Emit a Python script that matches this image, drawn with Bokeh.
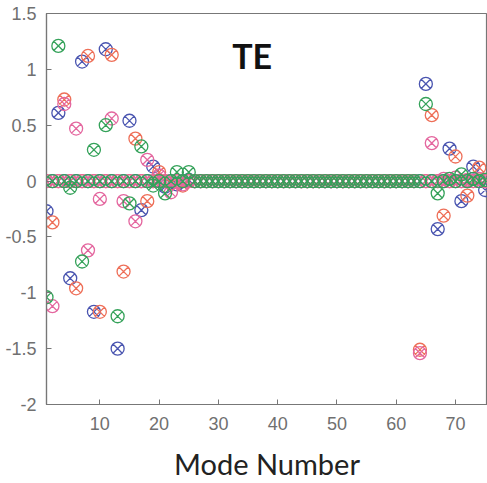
from bokeh.plotting import figure
from bokeh.models import ColumnDataSource, Range1d, FixedTicker, Label
from bokeh.embed import file_html
from bokeh.resources import INLINE

modes = list(range(1, 76))

# values per mode 1..75
blue = [-0.27, 0, 0.61, 0, -0.87, 0, 1.07, 0, -1.17, 0,
        1.18, 0, -1.50, 0, 0.54, 0, -0.26, 0, 0.13, 0,
        -0.05, 0, -0.03, 0, 0.01, 0, 0, 0, 0, 0,
        0, 0, 0, 0, 0, 0, 0, 0, 0, 0,
        0, 0, 0, 0, 0, 0, 0, 0, 0, 0,
        0, 0, 0, 0, 0, 0, 0, 0, 0, 0,
        0, 0, 0, 0, 0.87, 0, -0.43, 0, 0.29, 0,
        -0.18, 0, 0.13, 0, -0.08]
red = [0, -0.37, 0, 0.73, 0, -0.96, 0, 1.12, 0, -1.17,
       0, 1.13, 0, -0.81, 0, 0.38, 0, -0.18, 0, 0.08,
       0, -0.02, 0, -0.04, 0, 0, 0, 0, 0, 0,
       0, 0, 0, 0, 0, 0, 0, 0, 0, 0,
       0, 0, 0, 0, 0, 0, 0, 0, 0, 0,
       0, 0, 0, 0, 0, 0, 0, 0, 0, 0,
       0, 0, 0, -1.51, 0, 0.59, 0, -0.31, 0, 0.22,
       0, -0.13, 0, 0.12, 0]
pink = [0, -1.12, 0, 0.69, 0, 0.47, 0, -0.62, 0, -0.16,
        0, 0.56, 0, -0.18, 0, -0.36, 0, 0.19, 0, 0.05,
        0, -0.10, 0, -0.03, 0, 0, 0, 0, 0, 0,
        0, 0, 0, 0, 0, 0, 0, 0, 0, 0,
        0, 0, 0, 0, 0, 0, 0, 0, 0, 0,
        0, 0, 0, 0, 0, 0, 0, 0, 0, 0,
        0, 0, 0, -1.54, 0, 0.34, 0, 0.02, 0, 0.03,
        0, 0.01, 0, 0.02, 0]
green = [-1.04, 0, 1.21, 0, -0.06, 0, -0.72, 0, 0.28, 0,
         0.50, 0, -1.21, 0, -0.20, 0, 0.31, 0, -0.04, 0,
         -0.11, 0, 0.08, 0, 0.08, 0, 0, 0, 0, 0,
         0, 0, 0, 0, 0, 0, 0, 0, 0, 0,
         0, 0, 0, 0, 0, 0, 0, 0, 0, 0,
         0, 0, 0, 0, 0, 0, 0, 0, 0, 0,
         0, 0, 0, 0, 0.69, 0, -0.11, 0, 0.02, 0,
         0.06, 0, 0.02, 0, 0.01]

x_ticks = [10, 20, 30, 40, 50, 60, 70]
y_ticks = [-2, -1.5, -1, -0.5, 0, 0.5, 1, 1.5]
y_tick_labels = ["-2", "-1.5", "-1", "-0.5", "0", "0.5", "1", "1.5"]

p = figure(width=487, height=483, output_backend="svg", toolbar_location=None,
           x_range=Range1d(1, 75.4), y_range=Range1d(-2, 1.5),
           min_border_left=46, min_border_right=0, min_border_top=13,
           min_border_bottom=78)
p.outline_line_color = "#777777"
p.outline_line_width = 1.2
p.xgrid.visible = False
p.ygrid.visible = False
p.background_fill_color = "white"
p.border_fill_color = "white"

series = [(blue, "#4a55b0"), (red, "#ee6f58"), (pink, "#e4679f"), (green, "#35a25a")]
for vals, col in series:
    src = ColumnDataSource(dict(x=modes, y=vals))
    p.scatter("x", "y", source=src, marker="circle_x", size=13,
              line_color=col, fill_color=None, line_width=1.3)

axis_col = "#777777"
lab_col = "#707070"
for ax in (p.xaxis[0], p.yaxis[0]):
    ax.axis_line_color = axis_col
    ax.axis_line_width = 1.2
    ax.major_tick_line_color = axis_col
    ax.major_tick_in = 5
    ax.major_tick_out = 0
    ax.minor_tick_line_color = None
    ax.major_label_text_color = lab_col
    ax.major_label_text_font = "Liberation Sans"
    ax.major_label_text_font_size = "18px"

p.xaxis.ticker = FixedTicker(ticks=x_ticks)
p.xaxis.major_label_standoff = 12
p.xaxis.axis_label = "Mode Number"
p.xaxis.axis_label_text_font = "Lato"
p.xaxis.axis_label_text_font_style = "normal"
p.xaxis.axis_label_text_font_size = "29px"
p.xaxis.axis_label_text_color = "#222222"
p.xaxis.axis_label_standoff = 13

p.yaxis.ticker = FixedTicker(ticks=y_ticks)
p.yaxis.major_label_overrides = {t: l for t, l in zip(y_ticks, y_tick_labels)}
p.yaxis.major_label_standoff = 10

p.add_layout(Label(x=35.7, y=1.125, text="TE", text_font="Lato",
                   text_font_style="bold", text_font_size="34px",
                   text_color="#111111", text_align="center",
                   text_baseline="middle"))

open("out.html", "w").write(file_html(p, INLINE))
